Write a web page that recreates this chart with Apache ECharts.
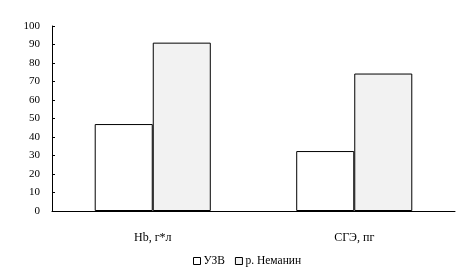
<!DOCTYPE html>
<html><head><meta charset="utf-8">
<script src="https://cdn.jsdelivr.net/npm/echarts@6/dist/echarts.min.js"></script>
<style>html,body{margin:0;padding:0;background:#fff}#c{width:462px;height:277px}</style>
</head><body><div id="c"></div>
<script>
var categories = ['Hb, г*л', 'СГЭ, пг'];
var seriesNames = ['УЗВ', 'р. Неманин'];
var uzv = [47, 32.4];
var nemanin = [91, 74.3];
var yTicks = [0, 10, 20, 30, 40, 50, 60, 70, 80, 90, 100];

var chart = echarts.init(document.getElementById('c'));
var font = 'Liberation Serif';
chart.setOption({
  animation: false,
  textStyle: {fontFamily: font},
  grid: {left: 52, right: 7, top: 26, bottom: 66},
  legend: {
    bottom: 5, left: 188, itemWidth: 7, itemHeight: 7, itemGap: 10,
    icon: 'rect',
    itemStyle: {borderWidth: 1, borderColor: '#000'},
    textStyle: {fontFamily: font, fontSize: 11.5, color: '#000', padding: [0,0,0,-2]},
    data: seriesNames
  },
  xAxis: {
    type: 'category', data: categories,
    axisLine: {lineStyle: {color: '#000', width: 1}},
    axisTick: {inside: true, length: 3, lineStyle: {color: '#000'}},
    axisLabel: {color: '#000', fontFamily: font, fontSize: 12, margin: 21}
  },
  yAxis: {
    type: 'value', min: yTicks[0], max: yTicks[yTicks.length-1], interval: 10,
    axisLine: {show: true, lineStyle: {color: '#000', width: 1}},
    axisTick: {show: true, inside: true, length: 3, lineStyle: {color: '#000'}},
    splitLine: {show: false},
    axisLabel: {color: '#000', fontFamily: font, fontSize: 11, margin: 12}
  },
  series: [
    {name: seriesNames[0], type: 'bar', data: uzv, barWidth: '28.8%', barGap: '0%',
     itemStyle: {color: '#ffffff', borderColor: '#000', borderWidth: 1}},
    {name: seriesNames[1], type: 'bar', data: nemanin, barWidth: '28.8%', barGap: '0%',
     itemStyle: {color: '#f2f2f2', borderColor: '#000', borderWidth: 1}}
  ]
});
</script></body></html>
